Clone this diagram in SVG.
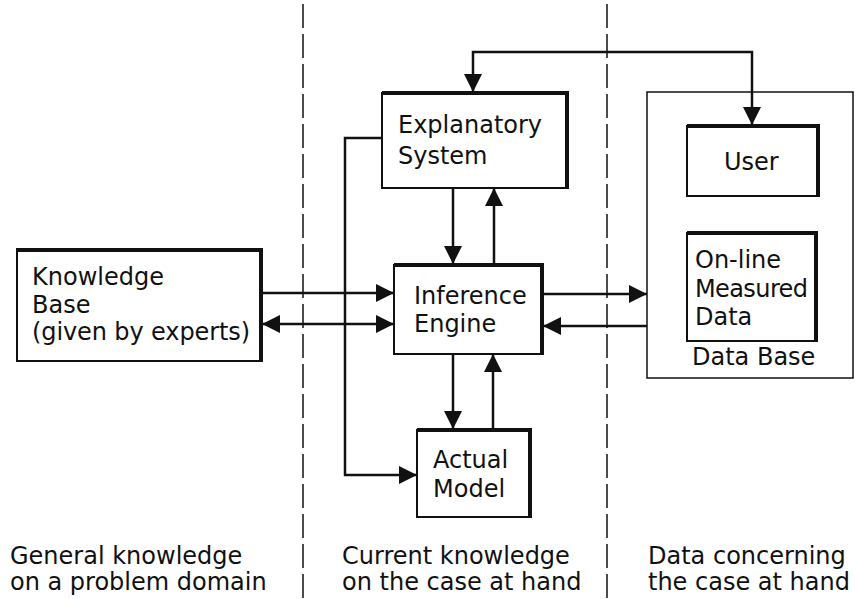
<svg xmlns="http://www.w3.org/2000/svg" width="855" height="599" viewBox="0 0 855 599">
<style>
text { font-family: "DejaVu Sans", "Liberation Sans", sans-serif; font-size: 24px; fill: #111; }
.box { fill: #fff; stroke: #111; stroke-width: 2; }
.thick { stroke: #111; stroke-width: 4; fill: none; }
.db { fill: #fff; stroke: #111; stroke-width: 1.5; }
.conn { stroke: #111; stroke-width: 2.5; fill: none; }
.divider { stroke: #111; stroke-width: 1.5; stroke-dasharray: 24 6; fill: none; }
</style>
<defs>
<marker id="arr" viewBox="0 0 18 18" markerWidth="18" markerHeight="18" refX="18" refY="9" markerUnits="userSpaceOnUse" orient="auto-start-reverse">
<path d="M0,0 L18,9 L0,18 z" fill="#111"/>
</marker>
</defs>
<rect width="855" height="599" fill="#fff"/>
<g id="dividers">
<line class="divider" x1="303" y1="4" x2="303" y2="599"/>
<line class="divider" x1="607" y1="4" x2="607" y2="599"/>
</g>
<g id="database">
<rect class="db" x="647" y="92" width="206" height="286"/>
<text x="692" y="365">Data Base</text>
</g>
<g id="connectors">
<polyline class="conn" points="473,92 473,52 752,52 752,125" marker-start="url(#arr)" marker-end="url(#arr)"/>
<polyline class="conn" points="382,138 345,138 345,475 417,475" marker-end="url(#arr)"/>
<line class="conn" x1="453" y1="188" x2="453" y2="264" marker-end="url(#arr)"/>
<line class="conn" x1="494" y1="264" x2="494" y2="188" marker-end="url(#arr)"/>
<line class="conn" x1="453" y1="354" x2="453" y2="429" marker-end="url(#arr)"/>
<line class="conn" x1="493" y1="429" x2="493" y2="354" marker-end="url(#arr)"/>
<line class="conn" x1="262" y1="293" x2="394" y2="293" marker-end="url(#arr)"/>
<line class="conn" x1="262" y1="324" x2="394" y2="324" marker-start="url(#arr)" marker-end="url(#arr)"/>
<line class="conn" x1="543" y1="294" x2="647" y2="294" marker-end="url(#arr)"/>
<line class="conn" x1="647" y1="326" x2="543" y2="326" marker-end="url(#arr)"/>
</g>
<g id="knowledge-base">
<rect class="box" x="17" y="249" width="245" height="112"/>
<polyline class="thick" points="17,250 261,250 261,361"/>
<text x="32" y="285">Knowledge</text>
<text x="32" y="313">Base</text>
<text x="32" y="340" textLength="218">(given by experts)</text>
</g>
<g id="explanatory-system">
<rect class="box" x="382" y="93" width="186" height="95"/>
<polyline class="thick" points="382,93 567,93 567,188"/>
<text x="398" y="133">Explanatory</text>
<text x="398" y="164">System</text>
</g>
<g id="inference-engine">
<rect class="box" x="394" y="265" width="149" height="89"/>
<polyline class="thick" points="394,265 542,265 542,354"/>
<text x="414" y="304">Inference</text>
<text x="414" y="332">Engine</text>
</g>
<g id="actual-model">
<rect class="box" x="417" y="430" width="114" height="87"/>
<polyline class="thick" points="417,430 530,430 530,517"/>
<text x="433" y="468">Actual</text>
<text x="433" y="497">Model</text>
</g>
<g id="user">
<rect class="box" x="687" y="126" width="132" height="70"/>
<polyline class="thick" points="687,126 818,126 818,196"/>
<text x="724" y="170">User</text>
</g>
<g id="online-data">
<rect class="box" x="687" y="233" width="130" height="108"/>
<polyline class="thick" points="687,233 816,233 816,341"/>
<text x="695" y="268">On-line</text>
<text x="695" y="297" textLength="113">Measured</text>
<text x="695" y="325">Data</text>
</g>
<g id="captions">
<text x="10" y="564">General knowledge</text>
<text x="10" y="590">on a problem domain</text>
<text x="342" y="564">Current knowledge</text>
<text x="342" y="590">on the case at hand</text>
<text x="648" y="564">Data concerning</text>
<text x="648" y="590">the case at hand</text>
</g>
</svg>
